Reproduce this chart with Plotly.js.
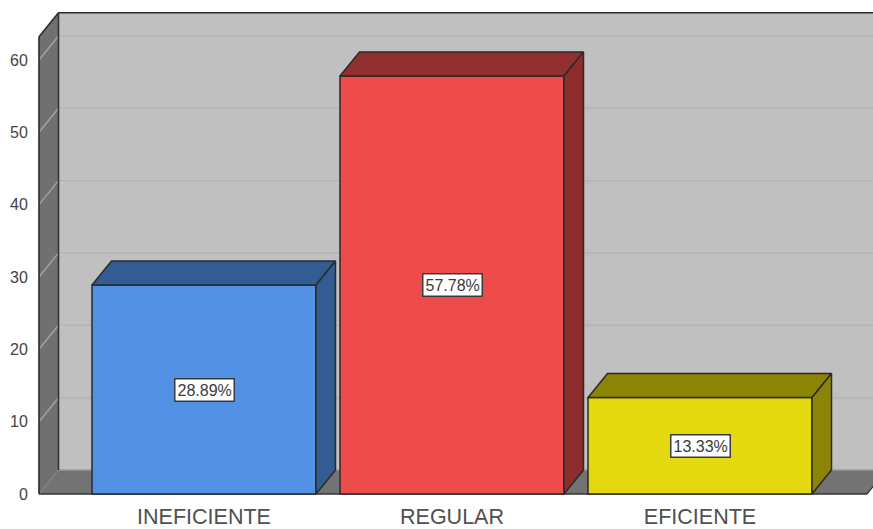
<!DOCTYPE html>
<html><head><meta charset="utf-8">
<script src="https://cdn.plot.ly/plotly-3.0.1.min.js"></script>
<style>html,body{margin:0;padding:0;background:#fff}#c{width:873px;height:529px}</style>
</head><body><div id="c"></div>
<script>
const categories = ["INEFICIENTE", "REGULAR", "EFICIENTE"];
const percents = [28.89, 57.78, 13.33];
const frontColors = ["#5291e4", "#ee4b4b", "#e4d80e"];
const sideColors = ["#335c92", "#8f2d2d", "#8c8406"];
const topColors = ["#335c92", "#92302f", "#8c8406"];
const yTicks = [0, 10, 20, 30, 40, 50, 60];

const pxX = 248, pxY = 7.234;          // pixels per category, pixels per unit
const dx = 19.5 / pxX, dy = 24 / pxY;  // oblique depth in axis units
const barW = 224 / pxX, half = barW / 2;
const xMin = (37 - 204) / pxX, xMax = (873 - 204) / pxX;
const yMin = -2 / pxY, yMax = 484 / pxY;
const wallL = (39 - 204) / pxX, wallR = (867 - 204) / pxX, wallTop = 63.2;
const ink = "#2a2a2a";

const poly = (pts, fill, line, w) => ({
  type: "path", xref: "x", yref: "y", layer: "below",
  path: "M" + pts.map(p => p[0] + "," + p[1]).join("L") + "Z",
  fillcolor: fill, line: {color: line, width: w}
});
const seg = (a, b, color, w) => ({
  type: "line", xref: "x", yref: "y", layer: "below",
  x0: a[0], y0: a[1], x1: b[0], y1: b[1], line: {color: color, width: w}
});

const shapes = [
  poly([[wallL + dx, dy], [wallR + dx, dy], [wallR + dx, wallTop + dy], [wallL + dx, wallTop + dy]], "#c0c0c0", "rgba(0,0,0,0)", 0),
  poly([[wallL, 0], [wallL + dx, dy], [wallL + dx, wallTop + dy], [wallL, wallTop]], "#707070", "rgba(0,0,0,0)", 0),
  poly([[wallL, 0], [wallL + dx, dy], [wallR + dx, dy], [wallR, 0]], "#737373", "rgba(0,0,0,0)", 0)
];
yTicks.slice(1).forEach(v => {
  shapes.push(seg([wallL + dx, v + dy], [wallR + dx, v + dy], "#b4b4b4", 1.5));
  shapes.push(seg([wallL, v], [wallL + dx, v + dy], "#a2a2a2", 1.5));
});
shapes.push(seg([wallL, 0], [wallL + dx, dy], "#8a8a8a", 1));
shapes.push(seg([wallL + dx, dy], [wallR + dx, dy], "#9a9a9a", 1.5));
shapes.push(seg([wallL, 0], [wallL, wallTop], ink, 1.6));
shapes.push(seg([wallL, wallTop], [wallL + dx, wallTop + dy], ink, 1.6));
shapes.push(seg([wallL + dx, wallTop + dy], [xMax, wallTop + dy], ink, 1.6));
shapes.push(seg([wallL + dx, dy], [wallL + dx, wallTop + dy], "#333333", 1.6));
shapes.push(seg([wallL, 0], [wallR, 0], "#333333", 1.6));
shapes.push(seg([wallR, 0], [wallR + dx, dy], "#333333", 1.2));

const traces = [{
  type: "bar", x: [0, 1, 2], y: percents, width: barW,
  marker: {color: frontColors, line: {color: ink, width: 1.5}},
  hoverinfo: "skip", showlegend: false
}];
percents.forEach((v, i) => {
  const l = i - half, r = i + half;
  traces.push({
    type: "scatter", mode: "lines", fill: "toself", fillcolor: topColors[i],
    x: [l, l + dx, r + dx, r, l], y: [v, v + dy, v + dy, v, v],
    line: {color: ink, width: 1.5}, hoverinfo: "skip", showlegend: false
  });
  traces.push({
    type: "scatter", mode: "lines", fill: "toself", fillcolor: sideColors[i],
    x: [r, r + dx, r + dx, r, r], y: [0, dy, v + dy, v, 0],
    line: {color: ink, width: 1.5}, hoverinfo: "skip", showlegend: false
  });
});

const annotations = percents.map((v, i) => ({
  x: i, y: v / 2, xref: "x", yref: "y", showarrow: false,
  text: v.toFixed(2) + "%",
  font: {family: "Liberation Sans, Arial, sans-serif", size: 16, color: "#3a3a3a"},
  bgcolor: "#ffffff", bordercolor: "#3a3a3a", borderwidth: 1.5, borderpad: 2
}));

const layout = {
  width: 873, height: 529,
  margin: {l: 37, r: 0, t: 10, b: 33, pad: 0},
  paper_bgcolor: "#ffffff", plot_bgcolor: "#ffffff",
  showlegend: false, shapes: shapes, annotations: annotations,
  xaxis: {
    range: [xMin, xMax], tickmode: "array", tickvals: [0, 1, 2], ticktext: categories,
    showgrid: false, zeroline: false, showline: false, automargin: false,
    ticks: "outside", ticklen: 1, tickcolor: "rgba(0,0,0,0)",
    tickfont: {family: "Liberation Sans, Arial, sans-serif", size: 21.5, color: "#505050"}
  },
  yaxis: {
    range: [yMin, yMax], tickmode: "array", tickvals: yTicks,
    showgrid: false, zeroline: false, showline: false,
    ticks: "outside", ticklen: 5, tickcolor: "rgba(0,0,0,0)",
    tickfont: {family: "Liberation Sans, Arial, sans-serif", size: 16, color: "#444444"}
  }
};
Plotly.newPlot("c", traces, layout, {displayModeBar: false, staticPlot: true});
</script></body></html>
